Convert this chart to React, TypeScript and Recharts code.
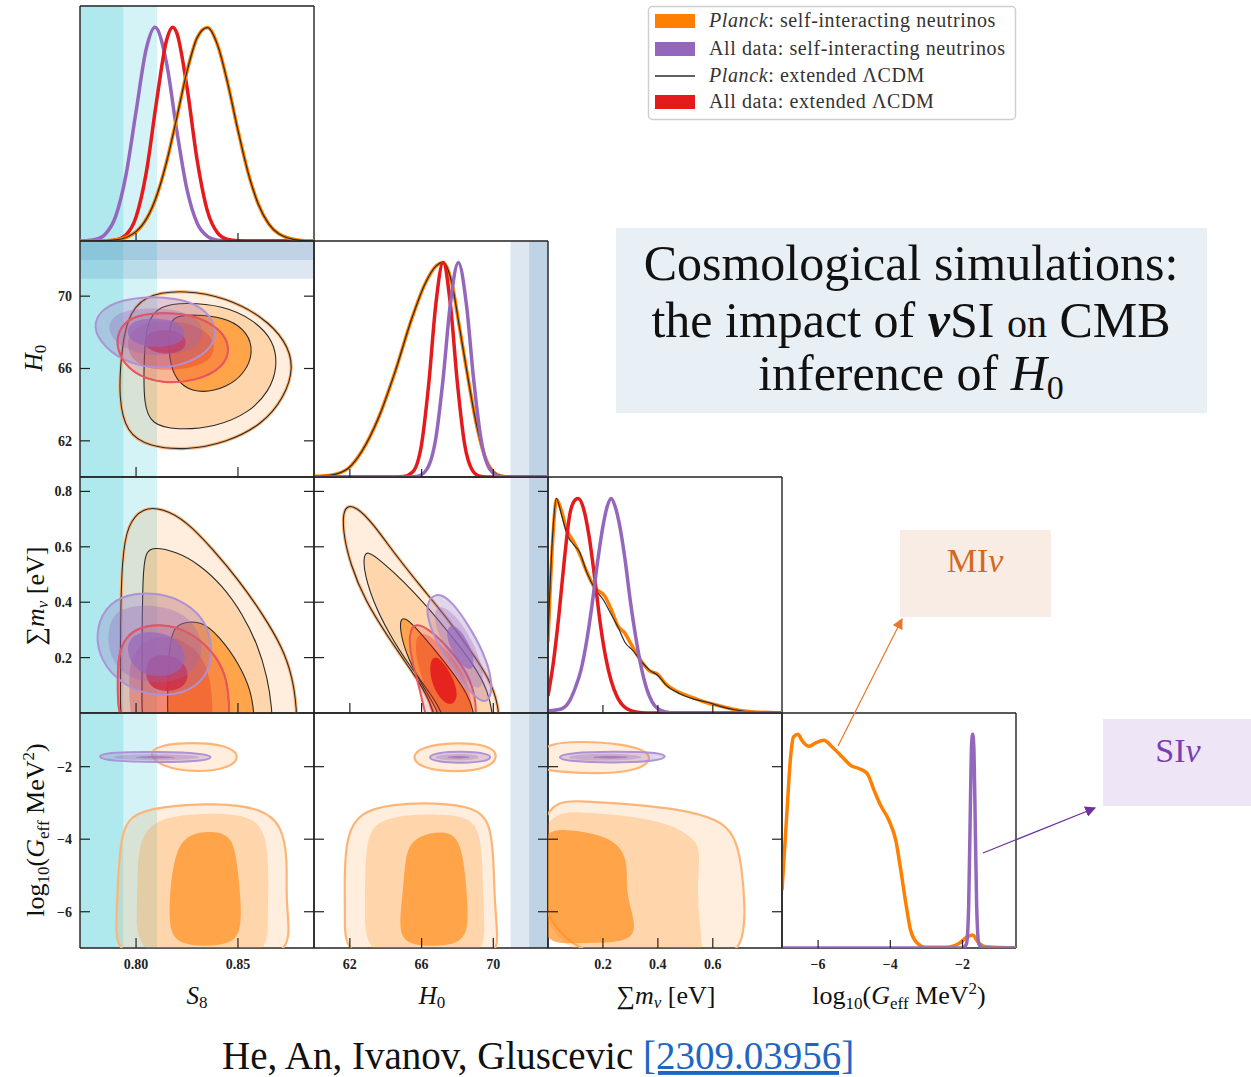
import React from 'react';
import { ScatterChart, Scatter, XAxis, YAxis, ReferenceArea } from 'recharts';

type P = [number, number];

const SERIF = '"Liberation Serif", "DejaVu Serif", serif';

const ORANGE = '#FF8000';
const PURPLE = '#9467BD';
const RED = '#E41A1C';
const BLACK = '#2b2b2b';

// parameter ranges shown on the axes
const S8_RANGE: P = [0.7725, 0.8873];
const H0_RANGE: P = [60, 73.05];
const MNU_RANGE: P = [0, 0.852];
const GEFF_RANGE: P = [-7.0, -0.52];
const PDF_RANGE: P = [0, 1.1];

const S8_TICKS = [0.8, 0.85];
const H0_TICKS = [62, 66, 70];
const MNU_XTICKS = [0.2, 0.4, 0.6];
const MNU_YTICKS = [0.2, 0.4, 0.6, 0.8];
const GEFF_TICKS = [-6, -4, -2];
const PDF_TICKS = [0.5];

// external constraints (low, high)
const S8_BAND_WIDE: P = [0.7, 0.8103];
const S8_BAND_NARROW: P = [0.7, 0.7937];
const H0_BAND_WIDE: P = [70.96, 75.1];
const H0_BAND_NARROW: P = [72.0, 74.08];

const LEGEND_NAMES = ['Planck', 'All data', 'Planck', 'All data'];
const LEGEND_MODELS = ['self-interacting neutrinos', 'self-interacting neutrinos', 'extended ΛCDM', 'extended ΛCDM'];

// ---- 1D marginals (normalised to peak) ----
const S8_OR: P[] = [[0.7725, 0], [0.78, 0.0004], [0.79, 0.005], [0.8, 0.044], [0.81, 0.208], [0.815, 0.371], [0.82, 0.578], [0.825, 0.794], [0.83, 0.952], [0.835, 0.999], [0.84, 0.917], [0.845, 0.737], [0.85, 0.518], [0.855, 0.319], [0.86, 0.172], [0.865, 0.081], [0.87, 0.034], [0.88, 0.004], [0.8873, 0.0005]];
const S8_PU: P[] = [[0.7725, 0.0002], [0.775, 0.001], [0.78, 0.007], [0.785, 0.033], [0.79, 0.115], [0.795, 0.306], [0.8, 0.606], [0.805, 0.899], [0.8093, 1], [0.815, 0.83], [0.82, 0.516], [0.825, 0.24], [0.83, 0.083], [0.835, 0.022], [0.84, 0.004], [0.85, 0], [0.8873, 0]];
const S8_RE: P[] = [[0.7725, 0], [0.785, 0.0006], [0.79, 0.005], [0.795, 0.028], [0.8, 0.112], [0.805, 0.32], [0.81, 0.649], [0.815, 0.941], [0.818, 1], [0.82, 0.973], [0.825, 0.719], [0.83, 0.377], [0.835, 0.141], [0.84, 0.038], [0.845, 0.007], [0.85, 0.001], [0.86, 0], [0.8873, 0]];

const H0_OR: P[] = [[60, 0.003], [61.0, 0.01], [61.93, 0.042], [62.67, 0.12], [63.6, 0.276], [64.52, 0.49], [65.44, 0.735], [66.19, 0.9], [66.83, 0.985], [67.2, 1], [67.67, 0.91], [68.13, 0.69], [68.59, 0.46], [69.06, 0.245], [69.52, 0.097], [69.98, 0.026], [70.44, 0.005], [71.0, 0], [73.05, 0]];
const H0_RE: P[] = [[60, 0], [64.5, 0], [65.0, 0.002], [65.5, 0.023], [66.0, 0.153], [66.4, 0.435], [66.8, 0.81], [67.2, 1], [67.6, 0.81], [68.0, 0.435], [68.4, 0.153], [68.8, 0.036], [69.2, 0.005], [69.6, 0], [73.05, 0]];
const H0_PU: P[] = [[60, 0], [65.3, 0], [65.8, 0.004], [66.3, 0.037], [66.8, 0.184], [67.2, 0.458], [67.6, 0.804], [68.05, 1], [68.5, 0.804], [68.9, 0.458], [69.3, 0.184], [69.8, 0.037], [70.3, 0.004], [70.8, 0], [73.05, 0]];

const MNU_OR: P[] = [[0, 0.33], [0.0169, 0.802], [0.0313, 0.995], [0.0494, 0.941], [0.0675, 0.856], [0.0916, 0.802], [0.1157, 0.74], [0.1398, 0.662], [0.1699, 0.584], [0.206, 0.546], [0.2301, 0.484], [0.2542, 0.406], [0.2783, 0.375], [0.3024, 0.321], [0.3386, 0.243], [0.3687, 0.197], [0.3988, 0.181], [0.4289, 0.135], [0.4771, 0.096], [0.5253, 0.073], [0.5735, 0.05], [0.6217, 0.034], [0.6699, 0.019], [0.7422, 0.006], [0.852, 0]];
const MNU_BK: P[] = [[0, 0.36], [0.0169, 0.83], [0.03, 1.0], [0.05, 0.92], [0.07, 0.83], [0.09, 0.79], [0.115, 0.75], [0.14, 0.66], [0.17, 0.58], [0.2, 0.53], [0.23, 0.46], [0.255, 0.4], [0.28, 0.33], [0.31, 0.29], [0.34, 0.24], [0.37, 0.2], [0.4, 0.175], [0.43, 0.13], [0.48, 0.09], [0.53, 0.065], [0.58, 0.05], [0.63, 0.03], [0.68, 0.015], [0.75, 0.004], [0.852, 0]];
const MNU_RE: P[] = [[0, 0.08], [0.02, 0.24], [0.04, 0.46], [0.06, 0.72], [0.08, 0.93], [0.1, 0.995], [0.11, 1], [0.13, 0.95], [0.15, 0.82], [0.17, 0.63], [0.19, 0.42], [0.21, 0.26], [0.23, 0.15], [0.25, 0.08], [0.28, 0.026], [0.32, 0.005], [0.36, 0], [0.852, 0]];
const MNU_PU: P[] = [[0, 0.01], [0.05, 0.02], [0.08, 0.06], [0.1, 0.12], [0.12, 0.2], [0.14, 0.33], [0.16, 0.5], [0.18, 0.7], [0.2, 0.87], [0.215, 0.96], [0.23, 1.0], [0.245, 0.96], [0.26, 0.88], [0.28, 0.72], [0.3, 0.52], [0.32, 0.35], [0.34, 0.21], [0.36, 0.11], [0.38, 0.05], [0.4, 0.02], [0.43, 0.005], [0.46, 0], [0.852, 0]];

const GEFF_OR: P[] = [[-7.0, 0.27], [-6.86, 0.645], [-6.77, 0.879], [-6.68, 0.988], [-6.56, 1.0], [-6.44, 0.97], [-6.26, 0.944], [-6.07, 0.96], [-5.84, 0.972], [-5.61, 0.941], [-5.33, 0.894], [-5.1, 0.855], [-4.87, 0.84], [-4.64, 0.816], [-4.45, 0.738], [-4.27, 0.668], [-4.04, 0.598], [-3.85, 0.505], [-3.71, 0.364], [-3.57, 0.209], [-3.44, 0.084], [-3.25, 0.022], [-3.02, 0.003], [-2.46, 0.003], [-2.09, 0.022], [-1.86, 0.053], [-1.72, 0.061], [-1.58, 0.03], [-1.35, 0.006], [-0.52, 0]];
const GEFF_PU: P[] = [[-7.0, 0], [-2.0, 0], [-1.89, 0.02], [-1.83, 0.2], [-1.78, 0.7], [-1.75, 0.95], [-1.72, 1.0], [-1.69, 0.95], [-1.66, 0.7], [-1.61, 0.2], [-1.55, 0.02], [-1.44, 0], [-0.52, 0]];

// ---- 2D contours: outer (3), middle (2), inner (1) ----
// S8 vs H0
const SH_OR3: P[] = [[0.8245, 70.35], [0.8441, 69.91], [0.8621, 68.87], [0.8735, 67.54], [0.8776, 66.06], [0.8727, 64.39], [0.8621, 62.91], [0.8441, 61.89], [0.8245, 61.48], [0.8065, 61.67], [0.7951, 62.44], [0.7915, 64.39], [0.7926, 66.61], [0.7951, 68.65], [0.8033, 70.09]];
const SH_OR2: P[] = [[0.8245, 69.65], [0.8425, 69.48], [0.8572, 68.74], [0.8678, 67.54], [0.8694, 66.06], [0.8654, 64.76], [0.8556, 63.56], [0.8392, 62.76], [0.8196, 62.59], [0.8074, 62.91], [0.8038, 64.02], [0.8038, 66.24], [0.8049, 68.56], [0.8114, 69.48]];
const SH_OR1: P[] = [[0.8196, 68.94], [0.8327, 68.98], [0.8458, 68.74], [0.8547, 68.0], [0.8577, 66.89], [0.8531, 65.69], [0.8441, 64.94], [0.8327, 64.63], [0.8229, 64.94], [0.8172, 65.87], [0.8158, 67.35], [0.8167, 68.56]];
const SH_PU3: P[] = [[0.8033, 70.0], [0.8196, 69.9], [0.8325, 69.45], [0.8399, 68.31], [0.8378, 67.1], [0.8245, 66.2], [0.8082, 65.95], [0.7925, 66.45], [0.7818, 67.5], [0.7786, 68.55], [0.7856, 69.58]];
const SH_PU2: P[] = [[0.8033, 69.35], [0.8196, 69.3], [0.831, 68.74], [0.8335, 67.91], [0.8294, 67.07], [0.8163, 66.7], [0.8016, 66.76], [0.7902, 67.35], [0.7853, 68.28], [0.7902, 69.11]];
const SH_PU1: P[] = [[0.8065, 68.78], [0.818, 68.74], [0.8242, 68.19], [0.8237, 67.54], [0.8163, 67.2], [0.8049, 67.17], [0.7967, 67.54], [0.7951, 68.19], [0.7992, 68.65]];
const SH_RE3: P[] = [[0.8114, 69.1], [0.8278, 69.0], [0.8413, 68.22], [0.8465, 67.17], [0.843, 66.05], [0.8294, 65.3], [0.8131, 65.15], [0.7979, 65.7], [0.7902, 66.98], [0.791, 68.12], [0.7979, 68.9]];
const SH_RE2: P[] = [[0.8114, 68.65], [0.8261, 68.56], [0.8368, 67.91], [0.8392, 66.98], [0.8343, 66.24], [0.8196, 65.87], [0.8049, 65.96], [0.7967, 66.61], [0.7951, 67.72], [0.8016, 68.43]];
const SH_RE1: P[] = [[0.8098, 68.19], [0.8212, 68.09], [0.8253, 67.54], [0.8229, 66.89], [0.8131, 66.76], [0.8049, 67.07], [0.8033, 67.72]];

// S8 vs sum m_nu
const SM_OR3: P[] = [[0.8033, 0.742], [0.8131, 0.739], [0.8245, 0.694], [0.8376, 0.592], [0.8507, 0.477], [0.8621, 0.357], [0.8719, 0.236], [0.8768, 0.128], [0.8788, 0.019], [0.8792, -0.1], [0.7926, -0.1], [0.7923, 0.02], [0.7923, 0.32], [0.7931, 0.561], [0.7959, 0.682]];
const SM_OR2: P[] = [[0.8082, 0.6], [0.8196, 0.583], [0.831, 0.537], [0.8425, 0.459], [0.8523, 0.357], [0.8596, 0.248], [0.8645, 0.128], [0.8667, 0.019], [0.8673, -0.1], [0.8029, -0.1], [0.8029, 0.02], [0.8029, 0.26], [0.8033, 0.501], [0.8046, 0.58]];
const SM_OR1: P[] = [[0.8229, 0.327], [0.8319, 0.333], [0.8408, 0.278], [0.8507, 0.176], [0.8564, 0.08], [0.858, -0.005], [0.8583, -0.1], [0.8155, -0.1], [0.8155, 0.02], [0.8155, 0.14], [0.8167, 0.26], [0.8188, 0.308]];
const SM_PU3: P[] = [[0.7951, 0.431], [0.8114, 0.435], [0.8245, 0.399], [0.8343, 0.333], [0.8379, 0.23], [0.8351, 0.128], [0.8229, 0.065], [0.8065, 0.061], [0.7918, 0.11], [0.7828, 0.188], [0.7799, 0.284], [0.7845, 0.381]];
const SM_PU2: P[] = [[0.7967, 0.387], [0.8114, 0.39], [0.8245, 0.357], [0.8319, 0.284], [0.8327, 0.2], [0.8261, 0.128], [0.8114, 0.104], [0.7967, 0.122], [0.7877, 0.188], [0.7856, 0.284], [0.7886, 0.357]];
const SM_PU1: P[] = [[0.8049, 0.296], [0.8163, 0.287], [0.8237, 0.236], [0.8245, 0.176], [0.818, 0.134], [0.8065, 0.13], [0.7984, 0.164], [0.7951, 0.23], [0.7975, 0.278]];
const SM_RE3: P[] = [[0.8, 0.308], [0.8131, 0.323], [0.8261, 0.296], [0.8376, 0.224], [0.8441, 0.14], [0.8458, 0.043], [0.8458, -0.1], [0.7951, -0.1], [0.791, 0.02], [0.791, 0.092], [0.791, 0.188], [0.7935, 0.26]];
const SM_RE2: P[] = [[0.8049, 0.275], [0.818, 0.278], [0.8294, 0.236], [0.8359, 0.152], [0.8376, 0.043], [0.8376, -0.1], [0.8, -0.1], [0.7967, 0.02], [0.7967, 0.092], [0.7967, 0.2]];
const SM_RE1: P[] = [[0.8114, 0.212], [0.8212, 0.202], [0.8261, 0.152], [0.8245, 0.092], [0.8147, 0.073], [0.8065, 0.092], [0.8041, 0.152], [0.8065, 0.2]];

// H0 vs sum m_nu
const HM_OR3: P[] = [[61.65, 0.752], [62.39, 0.745], [63.31, 0.682], [64.52, 0.573], [66.0, 0.453], [67.39, 0.345], [68.69, 0.23], [69.8, 0.122], [70.3, 0.031], [70.41, -0.1], [67.02, -0.1], [66.56, 0.043], [65.44, 0.152], [64.15, 0.272], [62.85, 0.405], [62.02, 0.537], [61.59, 0.658]];
const HM_OR2: P[] = [[62.94, 0.588], [63.78, 0.547], [64.98, 0.477], [66.28, 0.387], [67.67, 0.278], [68.96, 0.17], [69.7, 0.08], [69.98, -0.005], [70.04, -0.1], [67.57, -0.1], [67.11, 0.019], [65.81, 0.128], [64.52, 0.248], [63.41, 0.381], [62.81, 0.501], [62.76, 0.561]];
const HM_OR1: P[] = [[64.8, 0.354], [65.44, 0.327], [66.56, 0.242], [67.67, 0.152], [68.59, 0.067], [68.96, -0.005], [69.06, -0.1], [67.2, -0.1], [67.02, -0.001], [66.09, 0.092], [65.26, 0.194], [64.81, 0.284]];
const HM_PU3: P[] = [[66.83, 0.439], [67.67, 0.405], [68.59, 0.32], [69.43, 0.224], [69.98, 0.116], [69.8, 0.037], [69.15, 0.043], [68.22, 0.116], [67.3, 0.2], [66.46, 0.308], [66.19, 0.393]];
const HM_PU2: P[] = [[67.11, 0.393], [68.04, 0.345], [68.96, 0.248], [69.52, 0.14], [69.33, 0.08], [68.59, 0.104], [67.67, 0.188], [66.83, 0.296], [66.65, 0.369]];
const HM_PU1: P[] = [[67.67, 0.327], [68.41, 0.284], [68.96, 0.2], [68.87, 0.152], [68.31, 0.164], [67.67, 0.224], [67.3, 0.29]];
const HM_RE3: P[] = [[65.63, 0.33], [66.56, 0.296], [67.67, 0.224], [68.59, 0.14], [69.06, 0.055], [69.06, -0.1], [66.46, -0.1], [66.0, 0.067], [65.44, 0.188], [65.26, 0.284]];
const HM_RE2: P[] = [[66.0, 0.296], [66.93, 0.26], [68.04, 0.176], [68.69, 0.092], [68.78, 0.019], [68.78, -0.1], [66.83, -0.1], [66.28, 0.08], [65.7, 0.188], [65.63, 0.266]];
const HM_RE1: P[] = [[66.74, 0.212], [67.3, 0.176], [67.85, 0.116], [68.04, 0.055], [67.67, 0.025], [67.11, 0.043], [66.56, 0.104], [66.41, 0.176]];

// S8 vs log10 Geff
const SG_ORH: P[] = [[0.8057, -1.65], [0.8114, -1.4], [0.8278, -1.33], [0.8441, -1.4], [0.8515, -1.7], [0.8458, -2.05], [0.8294, -2.16], [0.8131, -2.02]];
const SG_PU3: P[] = [[0.7801, -1.72], [0.7869, -1.6], [0.8114, -1.59], [0.8327, -1.63], [0.8384, -1.74], [0.8327, -1.85], [0.8114, -1.88], [0.7869, -1.85]];
const SG_PU2: P[] = [[0.7861, -1.74], [0.7951, -1.66], [0.8196, -1.65], [0.8368, -1.74], [0.8196, -1.83], [0.7951, -1.82]];
const SG_PU1: P[] = [[0.7951, -1.74], [0.8098, -1.7], [0.8237, -1.74], [0.8098, -1.79]];
const SG_OR3: P[] = [[0.7926, -3.91], [0.7967, -3.34], [0.8114, -3.1], [0.8392, -3.0], [0.8621, -3.15], [0.8716, -3.63], [0.8743, -4.55], [0.8735, -5.57], [0.8752, -6.4], [0.8743, -7.5], [0.7902, -7.5], [0.7902, -6.4], [0.791, -5.2]];
const SG_OR2: P[] = [[0.8016, -4.09], [0.8082, -3.49], [0.8245, -3.31], [0.8458, -3.28], [0.8597, -3.45], [0.8645, -4.09], [0.865, -5.2], [0.8645, -6.3], [0.8645, -7.5], [0.8, -7.5], [0.8003, -5.94], [0.8008, -4.83]];
const SG_OR1: P[] = [[0.8196, -4.28], [0.8261, -3.83], [0.8392, -3.77], [0.8474, -3.95], [0.8498, -4.74], [0.8515, -5.75], [0.8515, -6.58], [0.8458, -6.9], [0.8327, -6.97], [0.8196, -6.86], [0.816, -6.4], [0.8167, -5.29]];

// H0 vs log10 Geff
const HG_ORH: P[] = [[65.39, -1.74], [66.04, -1.44], [67.89, -1.33], [69.74, -1.4], [70.33, -1.7], [69.74, -2.05], [67.89, -2.16], [66.04, -2.05]];
const HG_PU3: P[] = [[66.22, -1.74], [66.96, -1.6], [68.26, -1.58], [69.56, -1.62], [69.96, -1.74], [69.56, -1.86], [68.26, -1.9], [66.96, -1.88]];
const HG_PU2: P[] = [[66.5, -1.74], [67.33, -1.65], [68.63, -1.64], [69.46, -1.74], [68.63, -1.83], [67.33, -1.83]];
const HG_PU1: P[] = [[67.15, -1.74], [68.07, -1.69], [68.96, -1.74], [68.07, -1.79]];
const HG_OR3: P[] = [[61.81, -3.91], [62.52, -3.26], [64.37, -3.03], [66.78, -2.99], [69.0, -3.12], [69.83, -3.54], [70.02, -4.55], [70.07, -5.75], [70.26, -6.67], [70.15, -7.5], [61.69, -7.5], [61.74, -6.3], [61.69, -5.01]];
const HG_OR2: P[] = [[62.85, -4.09], [63.44, -3.49], [65.3, -3.31], [67.52, -3.31], [68.91, -3.45], [69.37, -4.09], [69.41, -5.38], [69.52, -6.4], [69.46, -7.5], [62.8, -7.5], [62.85, -5.94]];
const HG_OR1: P[] = [[65.11, -4.28], [65.85, -3.89], [67.15, -3.77], [67.98, -3.91], [68.35, -4.55], [68.54, -5.57], [68.63, -6.49], [68.07, -6.9], [66.41, -6.97], [64.93, -6.86], [64.74, -6.3], [65.02, -5.2]];

// sum m_nu vs log10 Geff
const MG_ORH: P[] = [[-0.05, -1.7], [0.0072, -1.35], [0.1157, -1.3], [0.2723, -1.37], [0.3566, -1.56], [0.3783, -1.79], [0.3325, -2.09], [0.212, -2.2], [0.0675, -2.16], [-0.05, -2.06]];
const MG_PU3: P[] = [[0.0253, -1.74], [0.0795, -1.61], [0.2361, -1.58], [0.3928, -1.6], [0.441, -1.72], [0.3928, -1.85], [0.2361, -1.9], [0.0795, -1.86]];
const MG_PU2: P[] = [[0.0554, -1.74], [0.1157, -1.65], [0.2602, -1.63], [0.3807, -1.74], [0.2602, -1.84], [0.1157, -1.83]];
const MG_PU1: P[] = [[0.1337, -1.74], [0.2241, -1.69], [0.3265, -1.74], [0.2241, -1.79]];
const MG_OR3: P[] = [[-0.05, -2.94], [0.1157, -2.94], [0.2964, -3.03], [0.4771, -3.17], [0.6217, -3.45], [0.6819, -3.91], [0.706, -4.74], [0.7181, -5.94], [0.712, -6.67], [0.67, -7.5], [-0.05, -7.5]];
const MG_OR2: P[] = [[-0.05, -3.26], [0.1157, -3.24], [0.2964, -3.35], [0.453, -3.59], [0.5313, -4.0], [0.5554, -4.28], [0.5434, -5.2], [0.5494, -6.12], [0.5614, -6.86], [0.5614, -7.5], [-0.05, -7.5]];
const MG_OR1: P[] = [[-0.05, -3.77], [0.0675, -3.72], [0.188, -3.86], [0.2663, -4.18], [0.2904, -4.74], [0.2843, -5.38], [0.3024, -5.94], [0.3181, -6.4], [0.3024, -6.77], [0.212, -6.86], [0.0916, -6.86], [-0.05, -6.9]];

// ---- layout of the triangle ----
const COL_X = [80, 314, 548, 782];
const ROW_Y = [6, 241, 477, 713];
const ROW_H = [235, 236, 236, 235];
const PW = 234;

type Layer = { d: P[]; fill?: string; op?: number; stroke?: string; sw?: number; curve?: 'basisClosed' | 'monotoneX' };
type Band = { r: P; dir: 'x' | 'y'; color: string };

const orangeFill = (o: P[], m: P[], i: P[], edge: number): Layer[] => [
  { d: o, fill: '#FF8C1A', op: 0.15, stroke: '#FDB577', sw: edge },
  { d: m, fill: '#FF8C1A', op: 0.25 },
  { d: i, fill: '#FF8C1A', op: 0.68 },
];
const blackLines = (o: P[], m: P[], i: P[]): Layer[] => [o, m, i].map((d) => ({ d, stroke: BLACK, sw: 1.1 }));
const purpleSet = (o: P[], m: P[], i: P[]): Layer[] => [
  { d: o, fill: PURPLE, op: 0.27, stroke: '#AD92D6', sw: 2 },
  { d: m, fill: PURPLE, op: 0.3 },
  { d: i, fill: PURPLE, op: 0.68 },
];
const redSet = (o: P[], m: P[], i: P[]): Layer[] => [
  { d: o, fill: RED, op: 0.17, stroke: '#E9555D', sw: 2 },
  { d: m, fill: RED, op: 0.28 },
  { d: i, fill: RED, op: 0.88 },
];
const redEdge = (o: P[]): Layer => ({ d: o, stroke: '#E9555D', sw: 1.6 });
const curve = (d: P[], stroke: string, sw: number): Layer => ({ d, stroke, sw, curve: 'monotoneX' });

const S8_BANDS: Band[] = [
  { r: S8_BAND_WIDE, dir: 'x', color: '#17BECF' },
  { r: S8_BAND_NARROW, dir: 'x', color: '#17BECF' },
];
const H0_XBANDS: Band[] = [
  { r: H0_BAND_WIDE, dir: 'x', color: '#4682B4' },
  { r: H0_BAND_NARROW, dir: 'x', color: '#4682B4' },
];
const H0_YBANDS: Band[] = [
  { r: H0_BAND_WIDE, dir: 'y', color: '#4682B4' },
  { r: H0_BAND_NARROW, dir: 'y', color: '#4682B4' },
];

const f2 = (v: number) => v.toFixed(2);
const f1 = (v: number) => v.toFixed(1);
const f0 = (v: number) => String(v);
const fneg = (v: number) => String(v).replace('-', '\u2212');

const NoDot = () => <g />;
const TICK_FONT = { fontSize: 14, fill: '#222', fontFamily: SERIF, fontWeight: 'bold' as const };

// inward tick marks (and optional labels) drawn at the axis edge
const makeTick = (side: 'b' | 't' | 'l' | 'r', len: number, show: boolean, fmt: (v: number) => string) =>
  (p: any) => {
    const { x, y, payload } = p;
    const lab = fmt(payload.value);
    const st = { stroke: '#222', strokeWidth: 1.2 };
    if (side === 'b')
      return (
        <g>
          {len > 0 && <line x1={x} x2={x} y1={y} y2={y - len} {...st} />}
          {show && <text x={x} y={y + 21} textAnchor="middle" {...TICK_FONT}>{lab}</text>}
        </g>
      );
    if (side === 't') return <g>{len > 0 && <line x1={x} x2={x} y1={y} y2={y + len} {...st} />}</g>;
    if (side === 'l')
      return (
        <g>
          {len > 0 && <line x1={x} x2={x + len} y1={y} y2={y} {...st} />}
          {show && <text x={x - 8} y={y + 5} textAnchor="end" {...TICK_FONT}>{lab}</text>}
        </g>
      );
    return <g>{len > 0 && <line x1={x} x2={x - len} y1={y} y2={y} {...st} />}</g>;
  };

type PanelProps = {
  r: number; c: number; xr: P; yr: P; xt: number[]; yt: number[];
  layers: Layer[]; bands?: Band[]; diag?: boolean;
  fx?: (v: number) => string; fy?: (v: number) => string;
};

function Panel({ r, c, xr, yr, xt, yt, layers, bands = [], diag = false, fx = f0, fy = f0 }: PanelProps) {
  const M = 40;
  const h = ROW_H[r];
  const showX = r === 3;
  const showY = c === 0 && r > 0;
  const axisLine = { stroke: '#222', strokeWidth: 1.4 };
  const common = { type: 'number' as const, interval: 0 as const, allowDataOverflow: true, axisLine, tickLine: false, tickSize: 0, tickMargin: 0 };
  return (
    <div style={{ position: 'absolute', left: COL_X[c] - M, top: ROW_Y[r] - M }}>
      <ScatterChart width={PW + 2 * M} height={h + 2 * M} margin={{ top: M - 1, right: M - 1, bottom: M - 1, left: M - 1 }}>
        {bands.map((b, i) =>
          b.dir === 'x' ? (
            <ReferenceArea key={`b${i}`} x1={Math.max(b.r[0], xr[0])} x2={Math.min(b.r[1], xr[1])}
              fill={b.color} fillOpacity={0.19} stroke="none" ifOverflow="hidden" />
          ) : (
            <ReferenceArea key={`b${i}`} y1={Math.max(b.r[0], yr[0])} y2={Math.min(b.r[1], yr[1])}
              fill={b.color} fillOpacity={0.19} stroke="none" ifOverflow="hidden" />
          )
        )}
        {layers.map((l, i) => (
          <Scatter key={`s${i}`} data={l.d.map(([x, y]) => ({ x, y }))} isAnimationActive={false}
            shape={NoDot} legendType="none"
            line={{
              fill: l.fill ?? 'none', fillOpacity: l.op ?? 1, stroke: l.stroke ?? 'none',
              strokeWidth: l.sw ?? 0, strokeLinejoin: 'round',
            }}
            lineJointType={l.curve ?? 'basisClosed'} />
        ))}
        <XAxis {...common} dataKey="x" domain={xr} ticks={xt} height={1}
          tick={makeTick('b', diag ? 8 : 10, showX, fx)} />
        <XAxis {...common} xAxisId="top" orientation="top" domain={xr} ticks={xt} height={1}
          tick={makeTick('t', diag ? 0 : 10, false, fx)} />
        <YAxis {...common} dataKey="y" domain={yr} ticks={yt} width={1}
          tick={makeTick('l', diag ? 0 : 10, showY, fy)} />
        <YAxis {...common} yAxisId="right" orientation="right" domain={yr} ticks={yt} width={1}
          tick={makeTick('r', diag ? 0 : 10, false, fy)} />
      </ScatterChart>
    </div>
  );
}

const T = { fontFamily: SERIF, fill: '#111' };

export default function App() {
  const legendRows = [21, 49, 76, 102];
  const legendColors = [ORANGE, PURPLE, null, RED];
  return (
    <div style={{ position: 'absolute', left: 0, top: 0, width: 1251, height: 1077, background: '#fff' }}>
      {/* diagonal */}
      <Panel r={0} c={0} diag xr={S8_RANGE} yr={PDF_RANGE} xt={S8_TICKS} yt={PDF_TICKS} bands={S8_BANDS}
        layers={[curve(S8_PU, PURPLE, 3.5), curve(S8_RE, RED, 3.5), curve(S8_OR, ORANGE, 3.5), curve(S8_OR, BLACK, 1.2)]} />
      <Panel r={1} c={1} diag xr={H0_RANGE} yr={PDF_RANGE} xt={H0_TICKS} yt={PDF_TICKS} bands={H0_XBANDS}
        layers={[curve(H0_OR, ORANGE, 3.5), curve(H0_OR, BLACK, 1.2), curve(H0_RE, RED, 3.5), curve(H0_PU, PURPLE, 3.5)]} />
      <Panel r={2} c={2} diag xr={MNU_RANGE} yr={PDF_RANGE} xt={MNU_XTICKS} yt={PDF_TICKS}
        layers={[curve(MNU_OR, ORANGE, 3.5), curve(MNU_BK, BLACK, 1.2), curve(MNU_RE, RED, 3.5), curve(MNU_PU, PURPLE, 3.5)]} />
      <Panel r={3} c={3} diag xr={GEFF_RANGE} yr={PDF_RANGE} xt={GEFF_TICKS} yt={PDF_TICKS} fx={fneg}
        layers={[curve(GEFF_OR, ORANGE, 3.5), curve(GEFF_PU, PURPLE, 3.5)]} />

      {/* row 1 */}
      <Panel r={1} c={0} xr={S8_RANGE} yr={H0_RANGE} xt={S8_TICKS} yt={H0_TICKS} fy={f0}
        bands={[...S8_BANDS, ...H0_YBANDS]}
        layers={[...orangeFill(SH_OR3, SH_OR2, SH_OR1, 3.2), ...blackLines(SH_OR3, SH_OR2, SH_OR1), ...redSet(SH_RE3, SH_RE2, SH_RE1), ...purpleSet(SH_PU3, SH_PU2, SH_PU1), redEdge(SH_RE3)]} />

      {/* row 2 */}
      <Panel r={2} c={0} xr={S8_RANGE} yr={MNU_RANGE} xt={S8_TICKS} yt={MNU_YTICKS} fy={f1} bands={S8_BANDS}
        layers={[...orangeFill(SM_OR3, SM_OR2, SM_OR1, 3.2), ...blackLines(SM_OR3, SM_OR2, SM_OR1), ...redSet(SM_RE3, SM_RE2, SM_RE1), ...purpleSet(SM_PU3, SM_PU2, SM_PU1), redEdge(SM_RE3)]} />
      <Panel r={2} c={1} xr={H0_RANGE} yr={MNU_RANGE} xt={H0_TICKS} yt={MNU_YTICKS} bands={H0_XBANDS}
        layers={[...orangeFill(HM_OR3, HM_OR2, HM_OR1, 3.2), ...blackLines(HM_OR3, HM_OR2, HM_OR1), ...redSet(HM_RE3, HM_RE2, HM_RE1), ...purpleSet(HM_PU3, HM_PU2, HM_PU1)]} />

      {/* row 3 */}
      <Panel r={3} c={0} xr={S8_RANGE} yr={GEFF_RANGE} xt={S8_TICKS} yt={GEFF_TICKS} fx={f2} fy={fneg} bands={S8_BANDS}
        layers={[{ d: SG_ORH, fill: '#FF8C1A', op: 0.15, stroke: '#FDB577', sw: 2.2 }, ...orangeFill(SG_OR3, SG_OR2, SG_OR1, 2.2), ...purpleSet(SG_PU3, SG_PU2, SG_PU1)]} />
      <Panel r={3} c={1} xr={H0_RANGE} yr={GEFF_RANGE} xt={H0_TICKS} yt={GEFF_TICKS} fx={f0} bands={H0_XBANDS}
        layers={[{ d: HG_ORH, fill: '#FF8C1A', op: 0.15, stroke: '#FDB577', sw: 2.2 }, ...orangeFill(HG_OR3, HG_OR2, HG_OR1, 2.2), ...purpleSet(HG_PU3, HG_PU2, HG_PU1)]} />
      <Panel r={3} c={2} xr={MNU_RANGE} yr={GEFF_RANGE} xt={MNU_XTICKS} yt={GEFF_TICKS} fx={f1}
        layers={[{ d: MG_ORH, fill: '#FF8C1A', op: 0.15, stroke: '#FDB577', sw: 2.2 }, ...orangeFill(MG_OR3, MG_OR2, MG_OR1, 2.2), ...purpleSet(MG_PU3, MG_PU2, MG_PU1)]} />

      <svg width={1251} height={1077} style={{ position: 'absolute', left: 0, top: 0, pointerEvents: 'none' }}>
        <defs>
          <marker id="ahOr" viewBox="0 0 10 10" refX="9" refY="5" markerWidth="9" markerHeight="9" orient="auto">
            <path d="M0,0 L10,5 L0,10 z" fill="#E8772E" />
          </marker>
          <marker id="ahPu" viewBox="0 0 10 10" refX="9" refY="5" markerWidth="9" markerHeight="9" orient="auto">
            <path d="M0,0 L10,5 L0,10 z" fill="#7030A0" />
          </marker>
        </defs>

        {/* legend */}
        <rect x={648.5} y={6.5} width={367} height={113} rx={4} fill="#fff" stroke="#cfcfcf" strokeWidth={1.5} />
        {legendRows.map((cy, i) => (
          <g key={i}>
            {legendColors[i] ? (
              <rect x={655} y={cy - 7} width={40} height={14} fill={legendColors[i] as string} />
            ) : (
              <line x1={655} x2={695} y1={cy} y2={cy} stroke={BLACK} strokeWidth={1.3} />
            )}
            <text x={709} y={cy + 6} fontSize={20} letterSpacing={0.6} {...T} fill="#333">
              <tspan fontStyle={LEGEND_NAMES[i] === 'Planck' ? 'italic' : 'normal'}>{LEGEND_NAMES[i]}</tspan>
              {`: ${LEGEND_MODELS[i]}`}
            </text>
          </g>
        ))}

        {/* title box */}
        <rect x={616} y={228} width={591} height={185} fill="#E8EFF5" />
        <text x={911} y={280} fontSize={50} textAnchor="middle" {...T}>Cosmological simulations:</text>
        <text x={911} y={337} fontSize={50} textAnchor="middle" {...T}>
          the impact of <tspan fontStyle="italic" fontWeight="bold">ν</tspan>SI <tspan fontSize={40}>on</tspan> CMB
        </text>
        <text x={911} y={390} fontSize={50} textAnchor="middle" {...T}>
          inference of <tspan fontStyle="italic">H</tspan><tspan fontSize={34} dy={9}>0</tspan>
        </text>

        {/* annotations */}
        <rect x={900} y={530} width={151} height={87} fill="#F9ECE4" />
        <text x={975} y={572} fontSize={34} textAnchor="middle" {...T} fill="#D2691E">
          MI<tspan fontStyle="italic">ν</tspan>
        </text>
        <rect x={1103} y={719} width={148} height={87} fill="#EEE6F6" />
        <text x={1178} y={762} fontSize={34} textAnchor="middle" {...T} fill="#7B3DB3">
          SI<tspan fontStyle="italic">ν</tspan>
        </text>
        <line x1={838} y1={746} x2={902} y2={619} stroke="#E8772E" strokeWidth={1.2} markerEnd="url(#ahOr)" />
        <line x1={983} y1={853} x2={1095} y2={808} stroke="#7030A0" strokeWidth={1.2} markerEnd="url(#ahPu)" />

        {/* x axis titles */}
        <text x={197} y={1004} fontSize={25} textAnchor="middle" {...T}>
          <tspan fontStyle="italic">S</tspan><tspan fontSize={17} dy={4}>8</tspan>
        </text>
        <text x={432} y={1004} fontSize={25} textAnchor="middle" {...T}>
          <tspan fontStyle="italic">H</tspan><tspan fontSize={17} dy={4}>0</tspan>
        </text>
        <text x={666} y={1004} fontSize={26} textAnchor="middle" {...T}>
          ∑<tspan fontStyle="italic">m</tspan><tspan fontSize={17} dy={4} fontStyle="italic">ν</tspan><tspan dy={-4}> [eV]</tspan>
        </text>
        <text x={899} y={1004} fontSize={26} textAnchor="middle" {...T}>
          log<tspan fontSize={17} dy={5}>10</tspan><tspan dy={-5}>(</tspan><tspan fontStyle="italic">G</tspan>
          <tspan fontSize={17} dy={5}>eff</tspan><tspan dy={-5}> MeV</tspan><tspan fontSize={17} dy={-10}>2</tspan><tspan dy={10}>)</tspan>
        </text>

        {/* y axis titles */}
        <text x={42} y={358} fontSize={25} textAnchor="middle" transform="rotate(-90 42 358)" {...T}>
          <tspan fontStyle="italic">H</tspan><tspan fontSize={17} dy={4}>0</tspan>
        </text>
        <text x={44} y={596} fontSize={26} textAnchor="middle" transform="rotate(-90 44 596)" {...T}>
          ∑<tspan fontStyle="italic">m</tspan><tspan fontSize={17} dy={4} fontStyle="italic">ν</tspan><tspan dy={-4}> [eV]</tspan>
        </text>
        <text x={44} y={830} fontSize={26} textAnchor="middle" transform="rotate(-90 44 830)" {...T}>
          log<tspan fontSize={17} dy={5}>10</tspan><tspan dy={-5}>(</tspan><tspan fontStyle="italic">G</tspan>
          <tspan fontSize={17} dy={5}>eff</tspan><tspan dy={-5}> MeV</tspan><tspan fontSize={17} dy={-10}>2</tspan><tspan dy={10}>)</tspan>
        </text>

        {/* reference */}
        <text x={222} y={1069} fontSize={39} {...T}>
          He, An, Ivanov, Gluscevic <tspan fill="#1F66C4" style={{ textDecoration: 'underline' }}>[2309.03956]</tspan>
        </text>
      </svg>
    </div>
  );
}
